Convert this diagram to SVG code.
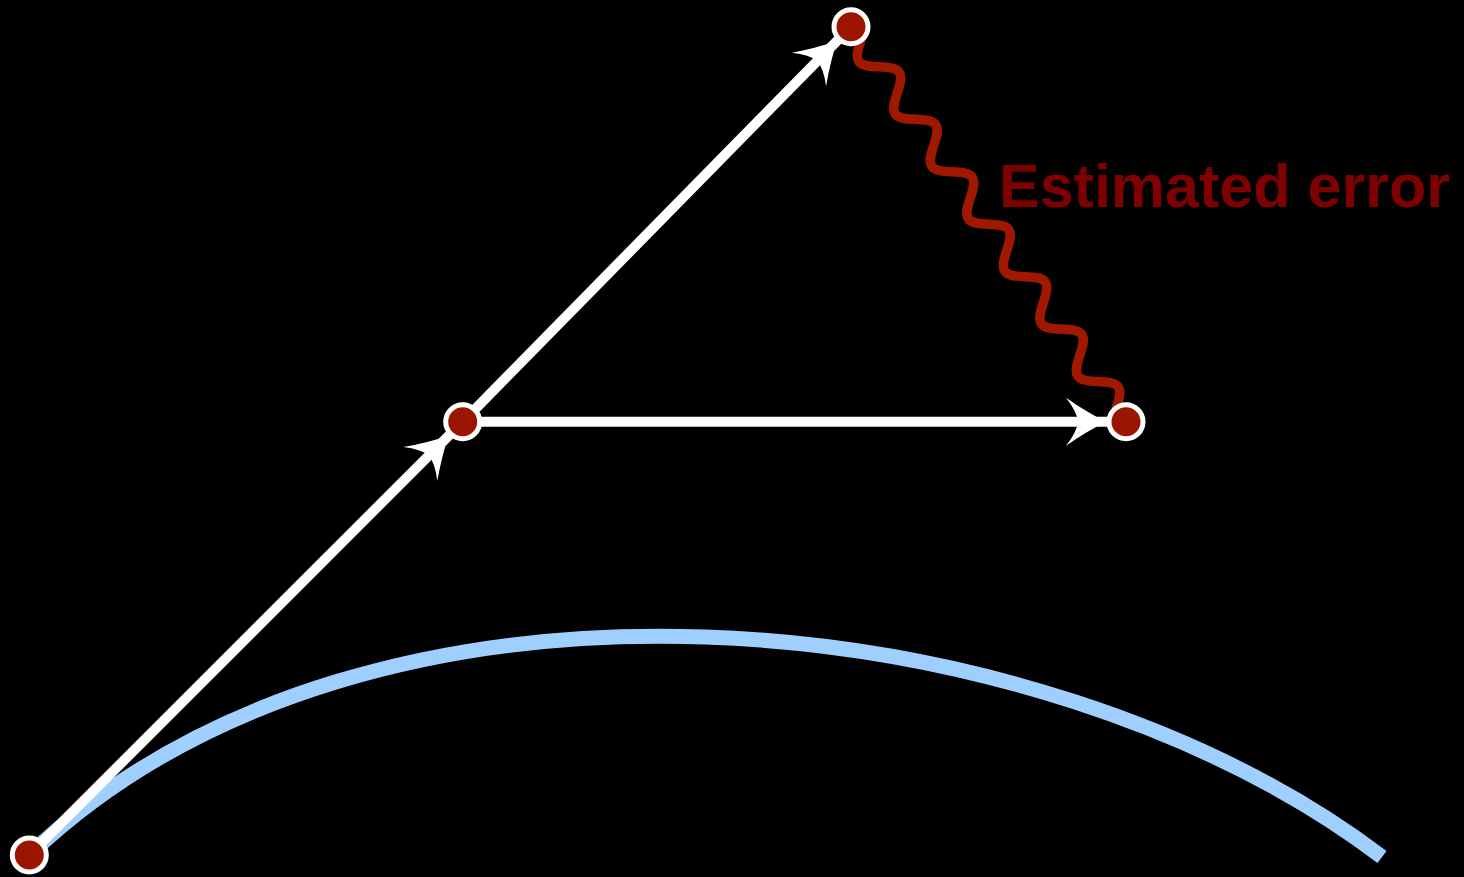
<svg xmlns="http://www.w3.org/2000/svg" width="1464" height="877" viewBox="0 0 1464 877">
<style>
.wline{stroke:#ffffff;stroke-width:10;fill:none}
.dot{fill:#9a1600;stroke:#ffffff;stroke-width:5}
.head{fill:#ffffff}
.wave{stroke:#a01800;stroke-width:9.5;fill:none;stroke-linecap:round;stroke-linejoin:round}
.lbl{font-family:"Liberation Sans",Arial,sans-serif;font-weight:bold;font-size:61px;fill:#7f0000}
</style>
<defs>
<path id="ah" d="M0,0 Q-20,-10 -40,-24 Q-29,-10 -28,0 Q-29,10 -40,24 Q-20,10 0,0 Z"/>
</defs>
<rect x="0" y="0" width="1464" height="877" fill="#000000"/>
<g id="curve">
<path d="M29.3,855 C370,530 1040,598 1382,857" fill="none" stroke="#9fcfff" stroke-width="15"/>
</g>
<g id="connectors">
<line class="wline" x1="29.3" y1="855" x2="462.7" y2="421.7"/>
<line class="wline" x1="462.7" y1="421.7" x2="851" y2="26.7"/>
<line class="wline" x1="462.7" y1="421.7" x2="1126" y2="421.7"/>
<use href="#ah" class="head" transform="translate(448.6,435.8) rotate(-45)"/>
<use href="#ah" class="head" transform="translate(837,41) rotate(-45.5)"/>
<use href="#ah" class="head" transform="translate(1106,421.7)"/>
<path class="wave" transform="translate(851,26.7) rotate(55.15)" d="M0,0 L17,0
c5.34,7.1 10.22,13.5 15.975,13.5 c5.755,0 10.635,-6.4 15.975,-13.5 c5.34,-7.1 10.22,-13.5 15.975,-13.5 c5.755,0 10.635,6.4 15.975,13.5
c5.34,7.1 10.22,13.5 15.975,13.5 c5.755,0 10.635,-6.4 15.975,-13.5 c5.34,-7.1 10.22,-13.5 15.975,-13.5 c5.755,0 10.635,6.4 15.975,13.5
c5.34,7.1 10.22,13.5 15.975,13.5 c5.755,0 10.635,-6.4 15.975,-13.5 c5.34,-7.1 10.22,-13.5 15.975,-13.5 c5.755,0 10.635,6.4 15.975,13.5
c5.34,7.1 10.22,13.5 15.975,13.5 c5.755,0 10.635,-6.4 15.975,-13.5 c5.34,-7.1 10.22,-13.5 15.975,-13.5 c5.755,0 10.635,6.4 15.975,13.5
c5.34,7.1 10.22,13.5 15.975,13.5 c5.755,0 10.635,-6.4 15.975,-13.5 c5.34,-7.1 10.22,-13.5 15.975,-13.5 c5.755,0 10.635,6.4 15.975,13.5
c5.34,7.1 10.22,13.5 15.975,13.5 c5.755,0 10.635,-6.4 15.975,-13.5 c5.34,-7.1 10.22,-13.5 15.975,-13.5 c5.755,0 10.635,6.4 15.975,13.5
c5.34,7.1 10.22,13.5 15.975,13.5 c5.755,0 10.635,-6.4 15.975,-13.5 c5.34,-7.1 10.22,-13.5 15.975,-13.5 c5.755,0 10.635,6.4 15.975,13.5
L481.3,0"/>
</g>
<g id="p0"><circle class="dot" cx="29.3" cy="855" r="17"/></g>
<g id="p1"><circle class="dot" cx="462.7" cy="421.7" r="17"/></g>
<g id="p2"><circle class="dot" cx="851" cy="26.7" r="17"/></g>
<g id="p3"><circle class="dot" cx="1126" cy="421.7" r="17"/></g>
<g id="label"><text class="lbl" x="999" y="207">Estimated error</text></g>
</svg>
